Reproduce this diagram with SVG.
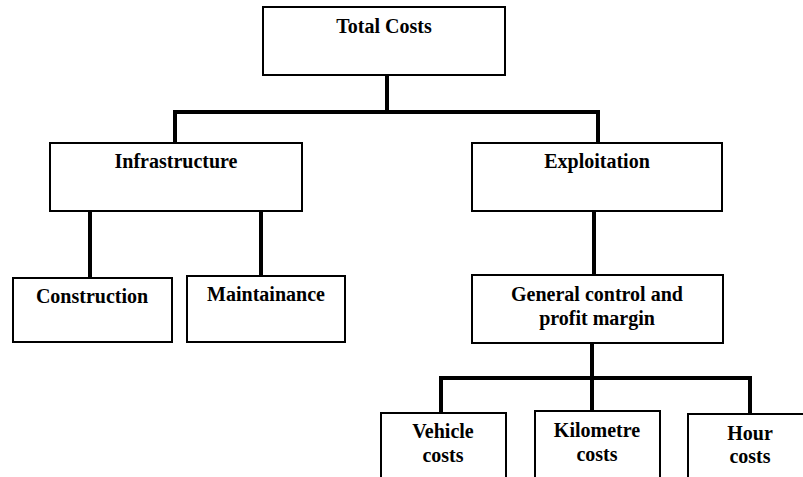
<svg xmlns="http://www.w3.org/2000/svg" width="803" height="477" viewBox="0 0 803 477">
<style>
.box{fill:#fff;stroke:#000;stroke-width:2}
.lbl{font-family:"Liberation Serif","Times New Roman",serif;font-weight:bold;font-size:20px;fill:#000;text-anchor:middle}
.conn{stroke:#000;stroke-width:4;fill:none;stroke-linecap:square}
</style>
<rect x="0" y="0" width="803" height="477" fill="#fff"/>
<g id="connectors">
<path class="conn" d="M387 76V112M175 112H598M175 112V142M598 112V142"/>
<path class="conn" d="M90 212V277M261 212V275"/>
<path class="conn" d="M594 212V274"/>
<path class="conn" d="M592 344V378M441 378H750M441 378V411M592 378V410M750 378V412"/>
</g>
<g id="total"><rect class="box" x="263" y="7" width="242" height="68"/><text class="lbl" x="384" y="33">Total Costs</text></g>
<g id="infrastructure"><rect class="box" x="50" y="143" width="252" height="68"/><text class="lbl" x="176" y="168">Infrastructure</text></g>
<g id="exploitation"><rect class="box" x="472" y="143" width="250" height="68"/><text class="lbl" x="597" y="168">Exploitation</text></g>
<g id="construction"><rect class="box" x="13" y="278" width="159" height="64"/><text class="lbl" x="92" y="303">Construction</text></g>
<g id="maintainance"><rect class="box" x="187" y="276" width="158" height="66"/><text class="lbl" x="266" y="301">Maintainance</text></g>
<g id="general"><rect class="box" x="472" y="275" width="251" height="68"/><text class="lbl" x="597" y="301">General control and</text><text class="lbl" x="597" y="325">profit margin</text></g>
<g id="vehicle"><rect class="box" x="381" y="413" width="125" height="80"/><text class="lbl" x="443" y="438">Vehicle</text><text class="lbl" x="443" y="462">costs</text></g>
<g id="kilometre"><rect class="box" x="535" y="411" width="125" height="80"/><text class="lbl" x="597" y="437">Kilometre</text><text class="lbl" x="597" y="461">costs</text></g>
<g id="hour"><rect class="box" x="688" y="414" width="130" height="80"/><text class="lbl" x="750" y="440">Hour</text><text class="lbl" x="750" y="463">costs</text></g>
</svg>
